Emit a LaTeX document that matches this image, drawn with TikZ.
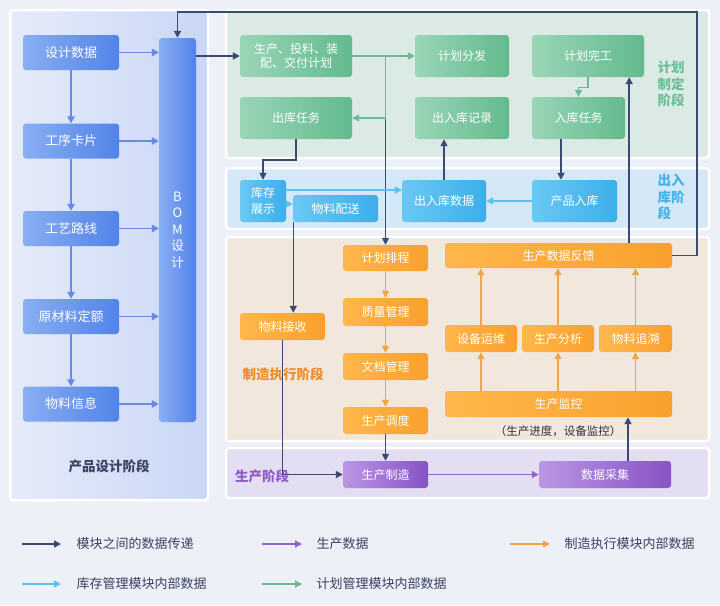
\documentclass[tikz,border=0pt]{standalone}
\usepackage{fontspec}
\setmainfont{Noto Sans CJK SC}
\usetikzlibrary{arrows.meta}

\definecolor{pagebg}{HTML}{EEF0F8}
\definecolor{linkdark}{HTML}{3A4A70}
\definecolor{designA}{HTML}{89AEF3}
\definecolor{designB}{HTML}{5183E8}
\definecolor{designline}{HTML}{6A8CE0}
\definecolor{planA}{HTML}{9AD5B6}
\definecolor{planB}{HTML}{63BA8E}
\definecolor{planline}{HTML}{6DBB96}
\definecolor{storeA}{HTML}{6AC8F3}
\definecolor{storeB}{HTML}{3DAEEA}
\definecolor{storeline}{HTML}{5CC2EC}
\definecolor{execA}{HTML}{FFB74B}
\definecolor{execB}{HTML}{F9A02D}
\definecolor{execline}{HTML}{F3A546}
\definecolor{prodA}{HTML}{BB96E3}
\definecolor{prodB}{HTML}{8753C6}
\definecolor{prodline}{HTML}{9564C8}
\definecolor{panelA}{HTML}{E5EBF9}
\definecolor{panelB}{HTML}{C9D7F5}
\definecolor{planpanel}{HTML}{DCEAE6}
\definecolor{storepanel}{HTML}{D4E8F7}
\definecolor{execpanel}{HTML}{F2E7DC}
\definecolor{prodpanel}{HTML}{E4DEF3}
\definecolor{designtitle}{HTML}{3C4364}
\definecolor{plantitle}{HTML}{6DBF99}
\definecolor{storetitle}{HTML}{45B2EA}
\definecolor{exectitle}{HTML}{EE8D2C}
\definecolor{prodtitle}{HTML}{8F5BC9}
\definecolor{legendgray}{HTML}{3A4060}
\definecolor{notegray}{HTML}{2F3040}

\tikzset{
  box/.style={rounded corners=3pt, text=white, align=center, inner sep=1pt,
    font=\fontsize{12}{14}\selectfont},
  designbox/.style={box, left color=designA, right color=designB,
    minimum width=96pt, minimum height=35pt, font=\fontsize{13}{15}\selectfont},
  bombox/.style={box, left color=designA, right color=designB,
    minimum width=37pt, minimum height=384pt, font=\fontsize{13}{16.5}\selectfont},
  planbox/.style={box, left color=planA, right color=planB,
    minimum width=94pt, minimum height=42pt},
  storebox/.style={box, left color=storeA, right color=storeB,
    minimum width=85pt, minimum height=42pt, font=\fontsize{12}{16}\selectfont},
  execbox/.style={box, left color=execA, right color=execB,
    minimum width=85pt, minimum height=27pt},
  prodbox/.style={box, left color=prodA, right color=prodB,
    minimum width=85pt, minimum height=27pt},
  panel/.style={draw=white, line width=2.5pt, rounded corners=3pt}
}

\begin{document}
\begin{tikzpicture}[x=1pt, y=-1pt,
    dataflow/.style={draw=linkdark, line width=1.6pt, -{Triangle[length=7pt,width=7pt]}},
    designflow/.style={draw=designline, line width=1.4pt, -{Triangle[length=7pt,width=7.5pt]}},
    planflow/.style={draw=planline, line width=1.4pt, -{Triangle[length=7pt,width=7pt]}},
    storeflow/.style={draw=storeline, line width=1.4pt, -{Triangle[length=7pt,width=7pt]}},
    execflow/.style={draw=execline, line width=1.4pt, -{Triangle[length=7pt,width=7pt]}},
    prodflow/.style={draw=prodline, line width=1.4pt, -{Triangle[length=7pt,width=7pt]}},
    stagelabel/.style={align=left, font=\fontsize{13.5}{16.5}\selectfont\bfseries},
    legendtext/.style={anchor=west, text=legendgray, font=\fontsize{13}{15}\selectfont}]

  \useasboundingbox (0,0) rectangle (720,605);
  \fill[pagebg] (0,0) rectangle (720,605);

  % stage panels
  \draw[panel, left color=panelA, right color=panelB] (10,10) rectangle (208,500);
  \draw[panel, fill=planpanel]  (226,10)  rectangle (709,158);
  \draw[panel, fill=storepanel] (226,168) rectangle (709,229);
  \draw[panel, fill=execpanel]  (226,237) rectangle (709,441);
  \draw[panel, fill=prodpanel]  (226,448) rectangle (709,498);

  % product design
  \begin{scope}[every node/.style={designbox}]
    \node (des)   at (71,52.5)  {设计数据};
    \node (card)  at (71,141)   {工序卡片};
    \node (route) at (71,228.5) {工艺路线};
    \node (quota) at (71,316.5) {原材料定额};
    \node (info)  at (71,404)   {物料信息};
  \end{scope}
  \node[bombox] (bom) at (177.5,230) {B\\O\\M\\设\\计};

  % planning
  \begin{scope}[every node/.style={planbox}]
    \node[minimum width=112pt] (plan)    at (296,56)    {生产、投料、装\\配、交付计划};
    \node                      (dist)    at (462,56)    {计划分发};
    \node[minimum width=112pt] (done)    at (588,56)    {计划完工};
    \node[minimum width=112pt] (outtask) at (296,118)   {出库任务};
    \node                      (rec)     at (462,118)   {出入库记录};
    \node[minimum width=93pt]  (intask)  at (578.5,118) {入库任务};
  \end{scope}

  % storage
  \begin{scope}[every node/.style={storebox}]
    \node[minimum width=46pt]                     (stock)  at (263,201)   {库存\\展示};
    \node[minimum height=27pt]                    (deliv)  at (335.5,208.5) {物料配送};
    \node[minimum width=84pt]                     (iodata) at (444,201)   {出入库数据};
    \node                                         (prodin) at (574.5,201) {产品入库};
  \end{scope}

  % execution
  \begin{scope}[every node/.style={execbox}]
    \node (recv)  at (282.5,326.5) {物料接收};
    \node[minimum height=26pt] (sched) at (385.5,258) {计划排程};
    \node[minimum height=28pt] (qual)  at (385.5,312) {质量管理};
    \node (doc)   at (385.5,366.5) {文档管理};
    \node (disp)  at (385.5,420.5) {生产调度};
    \node[minimum width=227pt, minimum height=25pt] (feed) at (558.5,255.5) {生产数据反馈};
    \node[minimum width=72pt] (maint) at (481,338.5)   {设备运维};
    \node[minimum width=72pt] (anal)  at (558,338.5)   {生产分析};
    \node[minimum width=73pt] (trace) at (635.5,338.5) {物料追溯};
    \node[minimum width=227pt, minimum height=26pt] (mon) at (558.5,404) {生产监控};
  \end{scope}
  \node[text=notegray, font=\fontsize{11.5}{13}\selectfont] (monnote) at (558,431) {（生产进度，设备监控）};

  % production
  \begin{scope}[every node/.style={prodbox}]
    \node                     (make)    at (385.5,474.5) {生产制造};
    \node[minimum width=132pt] (collect) at (605,474.5)  {数据采集};
  \end{scope}

  % stage titles
  \node[stagelabel, text=designtitle] (designstage) at (109,466) {产品设计阶段};
  \node[stagelabel, text=plantitle, anchor=west] (planstage) at (654,84) {计划\\制定\\阶段};
  \node[stagelabel, text=storetitle, anchor=west] (storestage) at (654,197) {出入\\库阶\\段};
  \node[stagelabel, text=exectitle] (execstage) at (283,374) {制造执行阶段};
  \node[stagelabel, text=prodtitle] (prodstage) at (262,476) {生产阶段};

  % design flow
  \path (des)   edge[designflow] (card);
  \path (card)  edge[designflow] (route);
  \path (route) edge[designflow] (quota);
  \path (quota) edge[designflow] (info);
  \path (des.east)   edge[designflow] (des.east -| bom.west);
  \path (card.east)  edge[designflow] (card.east -| bom.west);
  \path (route.east) edge[designflow] (route.east -| bom.west);
  \path (quota.east) edge[designflow] (quota.east -| bom.west);
  \path (info.east)  edge[designflow] (info.east -| bom.west);

  % data between modules
  \coordinate (loop) at (697,12);
  \coordinate (split) at (sched.north |- plan.east);
  \draw[dataflow] (feed.east) -| (loop) -| (bom.north);
  \draw[dataflow] (plan.west -| bom.east) -- (plan.west);
  \draw[dataflow] (split) -- (sched.north);
  \draw[dataflow] (outtask.south) -- ++(0,21) -| (stock.north);
  \draw[dataflow] ([xshift=-17.5pt]intask.south) -- ([xshift=-17.5pt]intask.south |- prodin.north);
  \draw[dataflow] (iodata.north) -- (iodata.north |- rec.south);
  \draw[dataflow] ([xshift=0.5pt]deliv.south west) -- ([xshift=0.5pt]deliv.south west |- recv.north);
  \draw[dataflow] (recv.south) |- (make.west);
  \path (disp) edge[dataflow] (make);
  \draw[dataflow] ([xshift=23pt]collect.north) -- ([xshift=23pt]collect.north |- mon.south);
  \draw[dataflow] ([xshift=-15pt]done.south east |- feed.north) -- ([xshift=-15pt]done.south east);

  % planning flow
  \draw[planflow] (plan.east) -- (dist.west);
  \draw[planflow] (split) |- (outtask.east);
  \draw[planflow] (done.south) -- ++(0,10) -| (intask.north);

  % storage flow
  \draw[storeflow] ([yshift=11pt]stock.east) -- ([yshift=11pt]stock.east -| iodata.west);
  \draw[storeflow] ([yshift=-3pt]stock.east) -- ([yshift=-3pt]stock.east -| deliv.west);
  \path (prodin) edge[storeflow] (iodata);

  % execution flow
  \path (sched) edge[execflow] (qual);
  \path (qual)  edge[execflow] (doc);
  \path (doc)   edge[execflow] (disp);
  \draw[execflow] (maint.south |- mon.north) -- (maint.south);
  \draw[execflow] (anal.south |- mon.north)  -- (anal.south);
  \draw[execflow] (trace.south |- mon.north) -- (trace.south);
  \draw[execflow] (maint.north) -- (maint.north |- feed.south);
  \draw[execflow] (anal.north)  -- (anal.north |- feed.south);
  \draw[execflow] (trace.north) -- (trace.north |- feed.south);

  % production flow
  \path (make) edge[prodflow] (collect);

  % legend
  \node[legendtext] (lgdata)  at (73,544)  {模块之间的数据传递};
  \node[legendtext] (lgprod)  at (313,544) {生产数据};
  \node[legendtext] (lgexec)  at (561,544) {制造执行模块内部数据};
  \node[legendtext] (lgstore) at (73,584)  {库存管理模块内部数据};
  \node[legendtext] (lgplan)  at (313,584) {计划管理模块内部数据};
  \draw[dataflow]  ([xshift=-51pt]lgdata.west)  -- ([xshift=-12pt]lgdata.west);
  \draw[prodflow]  ([xshift=-51pt]lgprod.west)  -- ([xshift=-11pt]lgprod.west);
  \draw[execflow]  ([xshift=-51pt]lgexec.west)  -- ([xshift=-11pt]lgexec.west);
  \draw[storeflow] ([xshift=-51pt]lgstore.west) -- ([xshift=-12pt]lgstore.west);
  \draw[planflow]  ([xshift=-51pt]lgplan.west)  -- ([xshift=-11pt]lgplan.west);

\end{tikzpicture}
\end{document}
